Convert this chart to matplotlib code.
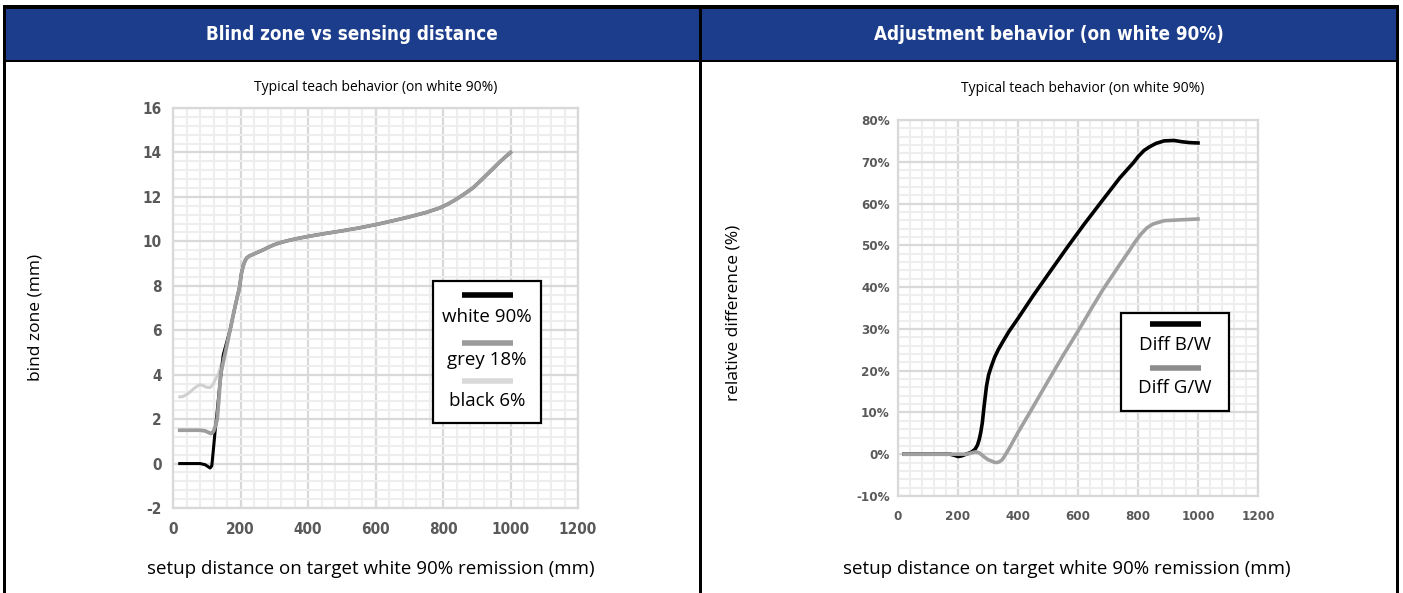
import matplotlib
matplotlib.use("Agg")
import matplotlib.pyplot as plt
from matplotlib.patches import Rectangle
from matplotlib.lines import Line2D
from matplotlib.ticker import MultipleLocator, PercentFormatter

plt.rcParams['axes.unicode_minus'] = False

# DATA
dist_white = [20, 40, 60, 80, 95, 105, 110, 115, 119.5, 124.4, 131.3, 139, 149, 160, 169, 183, 198,
              202, 208, 213, 218, 225, 235, 250, 268, 285, 300, 320, 340, 366, 400, 450, 500,
              550, 600, 650, 700, 750, 790, 815, 840, 865, 890, 915, 940, 970, 1000]
blind_white = [0, 0, 0, 0, -0.05, -0.15, -0.2, -0.1, 0.6, 1.4, 2.4, 3.6, 4.9, 5.5, 6.0, 7.0, 8.0,
               8.5, 8.9, 9.1, 9.25, 9.33, 9.4, 9.5, 9.62, 9.75, 9.85, 9.95, 10.03, 10.12, 10.22, 10.35, 10.47,
               10.6, 10.75, 10.92, 11.1, 11.3, 11.5, 11.68, 11.9, 12.15, 12.42, 12.78, 13.15, 13.6, 14.0]

dist_grey = [20, 40, 60, 80, 95, 105, 113, 120, 126, 131, 136, 141, 150, 160, 169, 183, 198,
             202, 208, 213, 218, 225, 235, 250, 268, 285, 300, 320, 340, 366, 400, 450, 500,
             550, 600, 650, 700, 750, 790, 815, 840, 865, 890, 915, 940, 970, 1000]
blind_grey = [1.5, 1.5, 1.5, 1.5, 1.47, 1.4, 1.35, 1.45, 1.7, 2.0, 2.9, 4.0, 4.65, 5.35, 6.0, 7.0, 8.0,
              8.5, 8.9, 9.1, 9.25, 9.33, 9.4, 9.5, 9.62, 9.75, 9.85, 9.95, 10.03, 10.12, 10.22, 10.35, 10.47,
              10.6, 10.75, 10.92, 11.1, 11.3, 11.5, 11.68, 11.9, 12.15, 12.42, 12.78, 13.15, 13.6, 14.0]

dist_black = [20, 30, 45, 60, 70, 80, 90, 100, 110, 118, 126, 134, 144, 152, 160, 169, 183, 198,
              202, 208, 213, 218, 225, 235, 250, 268, 285, 300, 320, 340, 366, 400, 450, 500,
              550, 600, 650, 700, 750, 790, 815, 840, 865, 890, 915, 940, 970, 1000]
blind_black = [3.0, 3.02, 3.15, 3.35, 3.47, 3.55, 3.5, 3.43, 3.42, 3.55, 3.8, 4.0, 4.5, 5.0, 5.4, 6.0, 7.0, 8.0,
               8.5, 8.9, 9.1, 9.25, 9.33, 9.4, 9.5, 9.62, 9.75, 9.85, 9.95, 10.03, 10.12, 10.22, 10.35, 10.47,
               10.6, 10.75, 10.92, 11.1, 11.3, 11.5, 11.68, 11.9, 12.15, 12.42, 12.78, 13.15, 13.6, 14.0]

dist_bw = [20, 100, 174, 190, 200, 212, 227, 245, 257, 265, 271, 276, 281, 287, 295, 302, 311, 322,
           334, 350, 370, 400, 451, 500, 564, 620, 684, 740, 785, 800, 820, 839, 860, 887, 920,
           946, 970, 1000]
diff_bw = [0, 0, 0, -0.3, -0.55, -0.4, 0, 0.5, 1.2, 2.2, 3.6, 5.3, 7.5, 11.5, 16.3, 19.0, 21.0, 23.2,
           25.0, 27.0, 29.4, 32.5, 38.0, 43.0, 49.5, 55.0, 61.0, 66.2, 69.8, 71.2, 72.7, 73.6, 74.4, 75.0, 75.1,
           74.8, 74.6, 74.5]

dist_gw = [20, 100, 200, 227, 245, 257, 269, 280, 290, 300, 311, 320, 329, 338, 347, 353, 359, 370,
           400, 450, 500, 550, 603, 650, 684, 740, 770, 790, 810, 830, 850, 887, 940, 1000]
diff_gw = [0, 0, 0, 0, 0.3, 0.55, 0.4, -0.2, -0.8, -1.3, -1.6, -1.9, -2.0, -1.8, -1.35, -0.7, 0, 1.3,
           5.2, 11.3, 17.5, 23.6, 29.8, 35.5, 39.5, 45.5, 48.6, 50.8, 52.7, 54.2, 55.1, 55.9, 56.1, 56.3]

titles = ["Blind zone vs sensing distance", "Adjustment behavior (on white 90%)"]
subtitle = "Typical teach behavior (on white 90%)"
xlabel = "setup distance on target white 90% remission (mm)"

# STYLE
W, H = 1403, 593
BLUE = '#1b3d8c'
GRID_MAJOR = '#d9d9d9'
GRID_MINOR = '#eeeeee'
TICK_COLOR = '#595959'
NARROW = ['DejaVu Sans']
LABEL_FONT = ['Open Sans', 'DejaVu Sans']


def fx(px):
    return px / W


def fy(py):
    return 1 - py / H


fig = plt.figure(figsize=(W / 100, H / 100), dpi=100)
fig.patch.set_facecolor('white')

# frame: header band, borders
def frect(x0, y0, x1, y1, color):
    fig.patches.append(Rectangle((fx(x0), fy(y1)), fx(x1) - fx(x0), fy(y0) - fy(y1),
                                 transform=fig.transFigure, facecolor=color,
                                 edgecolor='none', zorder=0))

frect(3, 9, 1398, 60, BLUE)
frect(3, 5, 1398, 9, 'black')
frect(3, 59.5, 1398, 62, 'black')
frect(3, 5, 6, H, 'black')
frect(699, 5, 701.5, H, 'black')
frect(1395.5, 5, 1398.5, H, 'black')

for cx, title in zip([352, 1049], titles):
    fig.text(fx(cx), fy(35), title, color='white', fontsize=13.5, fontweight='bold',
             family=NARROW, fontstretch='condensed', ha='center', va='center')


def style_axes(ax, xmajor, xminor, ymajor, yminor, tick_size, xpad, ypad):
    ax.xaxis.set_major_locator(MultipleLocator(xmajor))
    ax.xaxis.set_minor_locator(MultipleLocator(xminor))
    ax.yaxis.set_major_locator(MultipleLocator(ymajor))
    ax.yaxis.set_minor_locator(MultipleLocator(yminor))
    ax.grid(which='minor', color=GRID_MINOR, linewidth=1.5, zorder=0)
    ax.grid(which='major', color=GRID_MAJOR, linewidth=1.6, zorder=0)
    ax.set_axisbelow(True)
    for s in ax.spines.values():
        s.set_color(GRID_MAJOR)
        s.set_linewidth(1.6)
    ax.tick_params(which='both', length=0)
    ax.tick_params(axis='x', pad=xpad)
    ax.tick_params(axis='y', pad=ypad)
    for lab in ax.get_xticklabels() + ax.get_yticklabels():
        lab.set_fontfamily(NARROW)
        lab.set_fontstretch('condensed')
        lab.set_fontweight('bold')
        lab.set_fontsize(tick_size)
        lab.set_color(TICK_COLOR)


def draw_legend(ax, box, entries, line_x, text_x, fontsize):
    x0, y0, x1, y1 = box
    ax.add_patch(Rectangle((x0, y0), x1 - x0, y1 - y0, transform=ax.transAxes,
                           facecolor='white', edgecolor='black', linewidth=1.6,
                           zorder=10, clip_on=False))
    for label, color, ly, ty in entries:
        ax.add_line(Line2D(line_x, [ly, ly], transform=ax.transAxes, color=color,
                           linewidth=4, zorder=11, clip_on=False, solid_capstyle='butt'))
        ax.text(text_x, ty, label, transform=ax.transAxes, ha='center', va='center',
                fontsize=fontsize, family=LABEL_FONT, color='black', zorder=11)


# LEFT CHART
ax1 = fig.add_axes([fx(173), fy(508), fx(578) - fx(173), fy(108) - fy(508)])
ax1.plot(dist_black, blind_black, color='#d0d0d0', linewidth=2.2, zorder=3,
         solid_joinstyle='round')
ax1.plot(dist_white, blind_white, color='black', linewidth=2.2, zorder=4,
         solid_joinstyle='round')
ax1.plot(dist_grey, blind_grey, color='#9d9d9d', linewidth=2.7, zorder=5,
         solid_joinstyle='round')
ax1.set_xlim(0, 1200)
ax1.set_ylim(-2, 16)
style_axes(ax1, 200, 40, 2, 0.4, 11, 10, 8)
ax1.set_title(subtitle, fontsize=10, family=LABEL_FONT, pad=12)
ax1.set_xlabel(xlabel, fontsize=13.5, family=LABEL_FONT)
ax1.xaxis.set_label_coords(0.489, -0.130)
fig.text(fx(35), fy(317), 'bind zone (mm)', rotation=90, fontsize=12.5,
         family=LABEL_FONT, ha='center', va='center')
draw_legend(ax1, (0.642, 0.2125, 0.909, 0.5675),
            [('white 90%', 'black', 0.5325, 0.4775),
             ('grey 18%', '#9b9b9b', 0.4125, 0.37),
             ('black 6%', '#d9d9d9', 0.3175, 0.2675)],
            [0.714, 0.840], 0.775, 13.5)

# RIGHT CHART
ax2 = fig.add_axes([fx(898), fy(496), fx(1258) - fx(898), fy(120) - fy(496)])
ax2.plot(dist_bw, diff_bw, color='black', linewidth=2.6, zorder=4, solid_joinstyle='round')
ax2.plot(dist_gw, diff_gw, color='#a0a0a0', linewidth=2.6, zorder=5, solid_joinstyle='round')
ax2.set_xlim(0, 1200)
ax2.set_ylim(-10, 80)
ax2.yaxis.set_major_formatter(PercentFormatter(decimals=0))
style_axes(ax2, 200, 40, 10, 2, 9.5, 10, 6)
ax2.set_title(subtitle, fontsize=10, family=LABEL_FONT, pad=20)
ax2.title.set_x(0.514)
ax2.set_xlabel(xlabel, fontsize=13.5, family=LABEL_FONT)
ax2.xaxis.set_label_coords(0.469, -0.170)
fig.text(fx(733), fy(313), 'relative difference (%)', rotation=90, fontsize=12.5,
         family=LABEL_FONT, ha='center', va='center')
draw_legend(ax2, (0.619, 0.226, 0.919, 0.4867),
            [('Diff B/W', 'black', 0.457, 0.4016),
             ('Diff G/W', '#8c8c8c', 0.340, 0.287)],
            [0.70, 0.842], 0.769, 13.5)

fig.savefig('out.png', dpi=100, facecolor='white')
